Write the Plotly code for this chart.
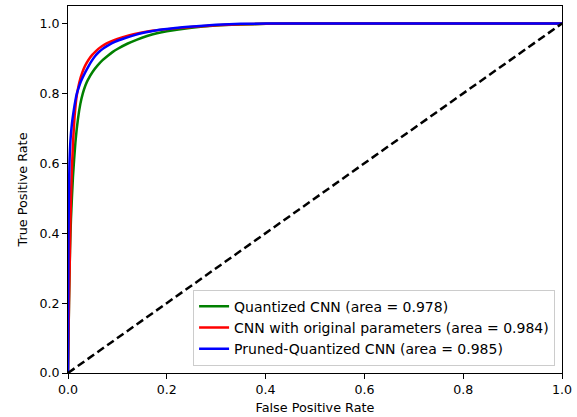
import plotly.graph_objects as go

# Quantized CNN
fpr_q = [0, 0.002, 0.004, 0.006, 0.01, 0.015, 0.02, 0.025, 0.03, 0.035, 0.04, 0.05, 0.06, 0.07, 0.08, 0.09, 0.10, 0.12, 0.14, 0.16, 0.18, 0.2, 0.25, 0.3, 0.35, 0.4, 0.5, 1.0]
tpr_q = [0, 0.20, 0.35, 0.44, 0.56, 0.66, 0.725, 0.77, 0.80, 0.822, 0.838, 0.862, 0.88, 0.895, 0.907, 0.918, 0.927, 0.942, 0.954, 0.964, 0.972, 0.978, 0.988, 0.994, 0.997, 0.999, 1.0, 1.0]

# CNN with original parameters
fpr_o = [0, 0.002, 0.004, 0.005, 0.007, 0.009, 0.011, 0.0135, 0.016, 0.018, 0.023, 0.029, 0.035, 0.042, 0.049, 0.055, 0.062, 0.073, 0.086, 0.1, 0.123, 0.145, 0.17, 0.217, 0.26, 0.3, 0.35, 0.45, 1.0]
tpr_o = [0, 0.20, 0.35, 0.44, 0.55, 0.62, 0.68, 0.737, 0.775, 0.796, 0.832, 0.86, 0.88, 0.897, 0.91, 0.919, 0.928, 0.939, 0.948, 0.956, 0.966, 0.973, 0.979, 0.986, 0.991, 0.995, 0.998, 1.0, 1.0]

# Pruned-Quantized CNN
fpr_p = [0, 0.0005, 0.001, 0.002, 0.003, 0.005, 0.008, 0.0115, 0.015, 0.018, 0.022, 0.026, 0.034, 0.042, 0.048, 0.055, 0.063, 0.072, 0.083, 0.096, 0.113, 0.133, 0.155, 0.177, 0.217, 0.26, 0.3, 0.35, 0.45, 1.0]
tpr_p = [0, 0.25, 0.40, 0.52, 0.60, 0.666, 0.714, 0.75, 0.78, 0.80, 0.818, 0.834, 0.858, 0.879, 0.893, 0.907, 0.919, 0.929, 0.939, 0.948, 0.957, 0.966, 0.974, 0.98, 0.987, 0.992, 0.996, 0.999, 1.0, 1.0]

diag = [0, 1]
ticks = [0, 0.2, 0.4, 0.6, 0.8, 1.0]

names = ["Quantized CNN (area = 0.978)",
         "CNN with original parameters (area = 0.984)",
         "Pruned-Quantized CNN (area = 0.985)"]
colors = ["#008000", "#ff0000", "#0000ff"]

fig = go.Figure()
for x, y, n, c in zip([fpr_q, fpr_o, fpr_p], [tpr_q, tpr_o, tpr_p], names, colors):
    fig.add_trace(go.Scatter(x=x, y=y, mode="lines", name=n,
                             line=dict(color=c, width=2.5, shape="spline", smoothing=0.5)))
fig.add_trace(go.Scatter(x=diag, y=diag, mode="lines", showlegend=False,
                         line=dict(color="black", width=2.5, dash="8px,4px")))

tickfont = dict(family="DejaVu Sans", size=12.6, color="black")
titlefont = dict(family="DejaVu Sans", size=12.8, color="black")
legfont = dict(family="DejaVu Sans", size=14, color="black")

axis_common = dict(showline=True, linecolor="black", linewidth=1, mirror=True,
                   ticks="outside", ticklen=5, tickcolor="black", showgrid=False,
                   zeroline=False, tickformat=".1f", tickfont=tickfont,
                   automargin=False, tickvals=ticks)

fig.update_layout(
    width=577, height=417,
    margin=dict(l=68, r=15, t=6, b=44),
    paper_bgcolor="white", plot_bgcolor="white",
    font=tickfont,
    xaxis=dict(range=[0, 1],
               title=dict(text="False Positive Rate", font=titlefont, standoff=6), **axis_common),
    yaxis=dict(range=[0, 1.05],
               title=dict(text="True Positive Rate", font=titlefont, standoff=8), **axis_common),
    legend=dict(x=0.986, y=0.02, xanchor="right", yanchor="bottom",
                bgcolor="rgba(255,255,255,0.8)", bordercolor="#cccccc", borderwidth=1,
                font=legfont, tracegroupgap=0),
)

fig.write_html("out.html", config={"displayModeBar": False},
               post_script="document.body.style.margin='0px';")
